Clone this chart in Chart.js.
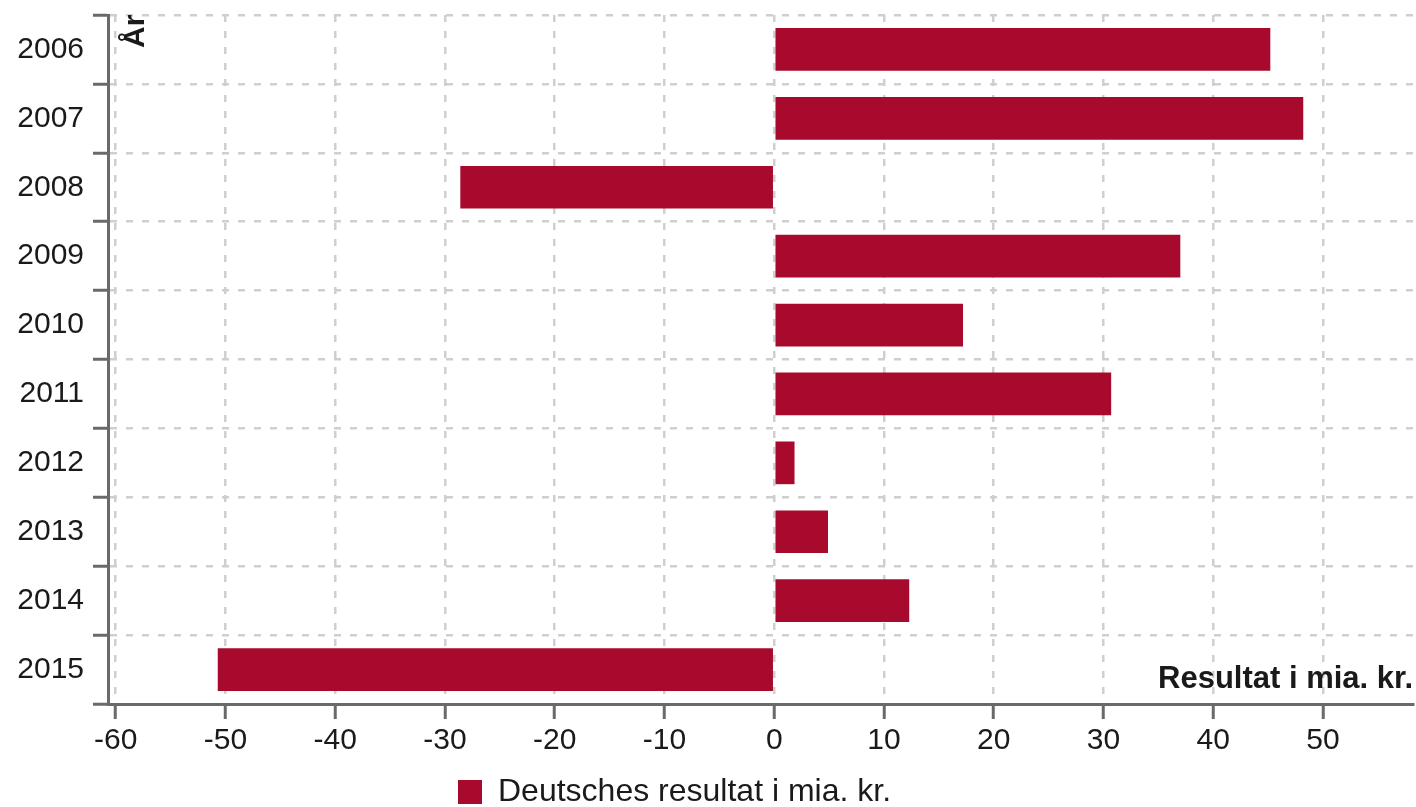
<!DOCTYPE html>
<html>
<head>
<meta charset="utf-8">
<script src="https://cdn.jsdelivr.net/npm/chart.js@4/dist/chart.umd.min.js"></script>
<style>
  html, body { margin: 0; padding: 0; background: #fff; }
  #wrap { width: 1416px; height: 807px; position: relative; }
</style>
</head>
<body>
<div id="wrap"><canvas id="chart"></canvas></div>
<script>
(function() {
  'use strict';

  var YEARS = ['2006', '2007', '2008', '2009', '2010', '2011', '2012', '2013', '2014', '2015'];
  var RESULT = [45.2, 48.2, -28.6, 37.0, 17.2, 30.7, 1.85, 4.9, 12.3, -50.7];
  var X_TICKS = [-60, -50, -40, -30, -20, -10, 0, 10, 20, 30, 40, 50];
  var X_MIN = -60.7;
  var X_MAX = 58.2;

  var SERIES_LABEL = 'Deutsches resultat i mia. kr.';
  var Y_TITLE = 'År';
  var X_TITLE = 'Resultat i mia. kr.';

  var COLORS = {
    bar: '#a80a2d',
    grid: '#cfcfcf',
    axis: '#6a6a6a',
    text: '#1a1a1a'
  };
  var FONT = 'Arial, "Liberation Sans", sans-serif';

  // axis titles sit inside the plot area, not beside the axes
  var innerTitles = {
    id: 'innerTitles',
    afterDraw: function(chart) {
      var ctx = chart.ctx;
      var area = chart.chartArea;
      ctx.save();
      ctx.fillStyle = COLORS.text;
      ctx.font = 'bold 31px ' + FONT;
      ctx.textAlign = 'right';
      ctx.textBaseline = 'alphabetic';
      ctx.fillText(X_TITLE, area.right, area.bottom - 16);

      ctx.font = 'bold 30px ' + FONT;
      ctx.translate(area.left + 36, area.top + 33);
      ctx.rotate(-Math.PI / 2);
      ctx.textAlign = 'left';
      ctx.fillText(Y_TITLE, 0, 0);
      ctx.restore();
    }
  };

  // legend sits left of centre and a little lower in the reference
  var legendShift = {
    id: 'legendShift',
    afterLayout: function(chart) {
      if (!chart.legend) return;
      chart.legend.left = 448;
      chart.legend.top += 11;
      chart.legend.bottom += 11;
    }
  };

  new Chart(document.getElementById('chart'), {
    type: 'bar',
    data: {
      labels: YEARS,
      datasets: [{
        label: SERIES_LABEL,
        data: RESULT,
        backgroundColor: COLORS.bar,
        borderWidth: 0,
        categoryPercentage: 1,
        barPercentage: 0.62
      }]
    },
    options: {
      indexAxis: 'y',
      responsive: true,
      maintainAspectRatio: false,
      animation: false,
      layout: { padding: { top: 15, right: 3, left: 0, bottom: 0 } },
      plugins: {
        legend: {
          display: true,
          position: 'bottom',
          align: 'start',
          labels: {
            color: COLORS.text,
            boxWidth: 24,
            boxHeight: 24,
            padding: 10,
            font: { family: FONT, size: 32 }
          }
        },
        tooltip: { enabled: false }
      },
      scales: {
        x: {
          type: 'linear',
          min: X_MIN,
          max: X_MAX,
          afterBuildTicks: function(axis) {
            axis.ticks = X_TICKS.map(function(v) { return { value: v }; });
          },
          afterFit: function(axis) { axis.height = 51; },
          ticks: {
            color: COLORS.text,
            padding: 4,
            font: { family: FONT, size: 30 }
          },
          grid: {
            color: COLORS.grid,
            lineWidth: 2.5,
            tickColor: COLORS.axis,
            tickWidth: 3,
            tickLength: 15
          },
          border: { display: true, color: COLORS.axis, width: 3, dash: [7, 9] }
        },
        y: {
          type: 'category',
          offset: true,
          afterFit: function(axis) {
            axis.width = 108;
            axis.paddingTop = 0;
            axis.paddingBottom = 0;
          },
          ticks: {
            color: COLORS.text,
            padding: 9,
            font: { family: FONT, size: 30 }
          },
          grid: {
            offset: true,
            color: COLORS.grid,
            lineWidth: 2.5,
            tickColor: COLORS.axis,
            tickWidth: 3,
            tickLength: 15
          },
          border: { display: true, color: COLORS.axis, width: 3, dash: [7, 9] }
        }
      }
    },
    plugins: [innerTitles, legendShift]
  });
})();
</script>
</body>
</html>
